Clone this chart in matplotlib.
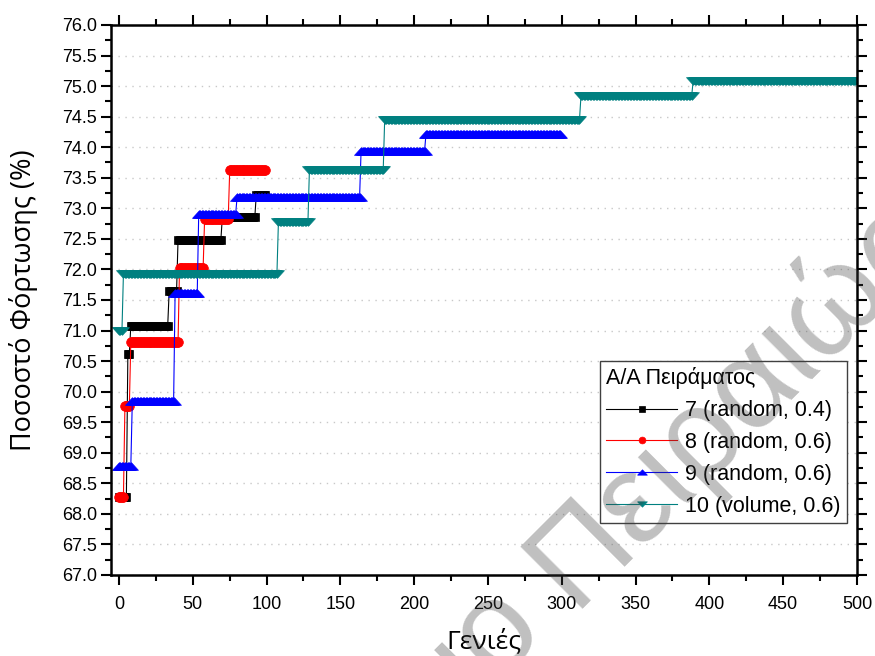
import numpy as np
import matplotlib.pyplot as plt
from matplotlib.ticker import MultipleLocator

# step data: first generation of each level, the level, last generation
starts_7 = [0, 6, 8, 34, 40, 70, 93]
levels_7 = [68.28, 70.62, 71.08, 71.65, 72.48, 72.85, 73.22]
end_7 = 99

starts_8 = [0, 4, 8, 41, 58, 75]
levels_8 = [68.28, 69.76, 70.81, 72.03, 72.83, 73.62]
end_8 = 99

starts_9 = [0, 9, 38, 54, 80, 164, 208]
levels_9 = [68.78, 69.84, 71.61, 72.90, 73.18, 73.93, 74.22]
end_9 = 299

starts_10 = [0, 3, 108, 129, 180, 313, 389]
levels_10 = [71.00, 71.93, 72.77, 73.62, 74.45, 74.84, 75.08]
end_10 = 500

labels = ['7 (random, 0.4)', '8 (random, 0.6)', '9 (random, 0.6)', '10 (volume, 0.6)']
colors = ['#000000', '#ff0000', '#0000ff', '#008080']
# Origin-like flat triangles
tri_up = [(-1, -0.55), (1, -0.55), (0, 0.55), (-1, -0.55)]
tri_down = [(-1, 0.55), (1, 0.55), (0, -0.55), (-1, 0.55)]
markers = ['s', 'o', tri_up, tri_down]
msizes = [5.8, 7, 10, 10]


def expand(starts, levels, end):
    # one value per generation, held until the next change
    counts = np.diff(starts + [end + 1])
    y = np.repeat(levels, counts)
    return np.arange(len(y)), y


plt.rcParams['font.family'] = ['Liberation Sans', 'DejaVu Sans']

fig = plt.figure(figsize=(8.75, 6.56), dpi=100)
ax = fig.add_axes([0.1269, 0.1235, 0.8525, 0.8384])

series = [(starts_7, levels_7, end_7), (starts_8, levels_8, end_8),
          (starts_9, levels_9, end_9), (starts_10, levels_10, end_10)]
for (s, l, e), lab, c, m, ms in zip(series, labels, colors, markers, msizes):
    x, y = expand(s, l, e)
    ax.plot(x, y, color=c, lw=0.8, marker=m, ms=ms, mec=c, mew=0.5, label=lab)

ax.set_xlim(-5.4, 500)
ax.set_ylim(67, 76)
ax.xaxis.set_major_locator(MultipleLocator(50))
ax.xaxis.set_minor_locator(MultipleLocator(25))
ax.yaxis.set_major_locator(MultipleLocator(0.5))
ax.yaxis.set_minor_locator(MultipleLocator(0.25))
ax.yaxis.set_major_formatter(plt.FormatStrFormatter('%.1f'))
ax.grid(axis='y', which='major', color='#c8c8c8', ls=(0, (1, 4)), lw=1)

for sp in ax.spines.values():
    sp.set_linewidth(1.8)
ax.tick_params(which='both', direction='out', top=True, right=True, width=1.5)
ax.tick_params(which='major', length=7)
ax.tick_params(which='minor', length=4)
ax.tick_params(axis='x', which='major', labelsize=13, pad=8)
ax.tick_params(axis='y', which='major', labelsize=13, pad=3)

ax.set_xlabel('Γενιές', fontsize=19, family=['Open Sans', 'DejaVu Sans'], labelpad=11)
ax.set_ylabel('Ποσοστό Φόρτωσης (%)', fontsize=19.5, family=['Open Sans', 'DejaVu Sans'],
              labelpad=17)

leg = ax.legend(title='Α/Α Πειράματος', loc='upper right', bbox_to_anchor=(0.9866, 0.389),
                borderaxespad=0, fontsize=15.5, title_fontsize=15.5, alignment='left',
                handlelength=3.3, handletextpad=0.35, labelspacing=0.5, borderpad=0.3,
                markerscale=0.7, fancybox=False, edgecolor='#404040', framealpha=1)
leg.get_frame().set_linewidth(1)

# faint watermark across the page, laid over everything like the scanned original
wm = dict(fontsize=92, color='#404040', alpha=0.33, rotation=45,
          rotation_mode='anchor', va='baseline', zorder=10)
fig.text(0.654, 0.072, 'Πανεπιστήμιο ', ha='right', **wm)
fig.text(0.654, 0.072, 'Πειραιώς', ha='left', **wm)

fig.savefig('out.png', dpi=100)
